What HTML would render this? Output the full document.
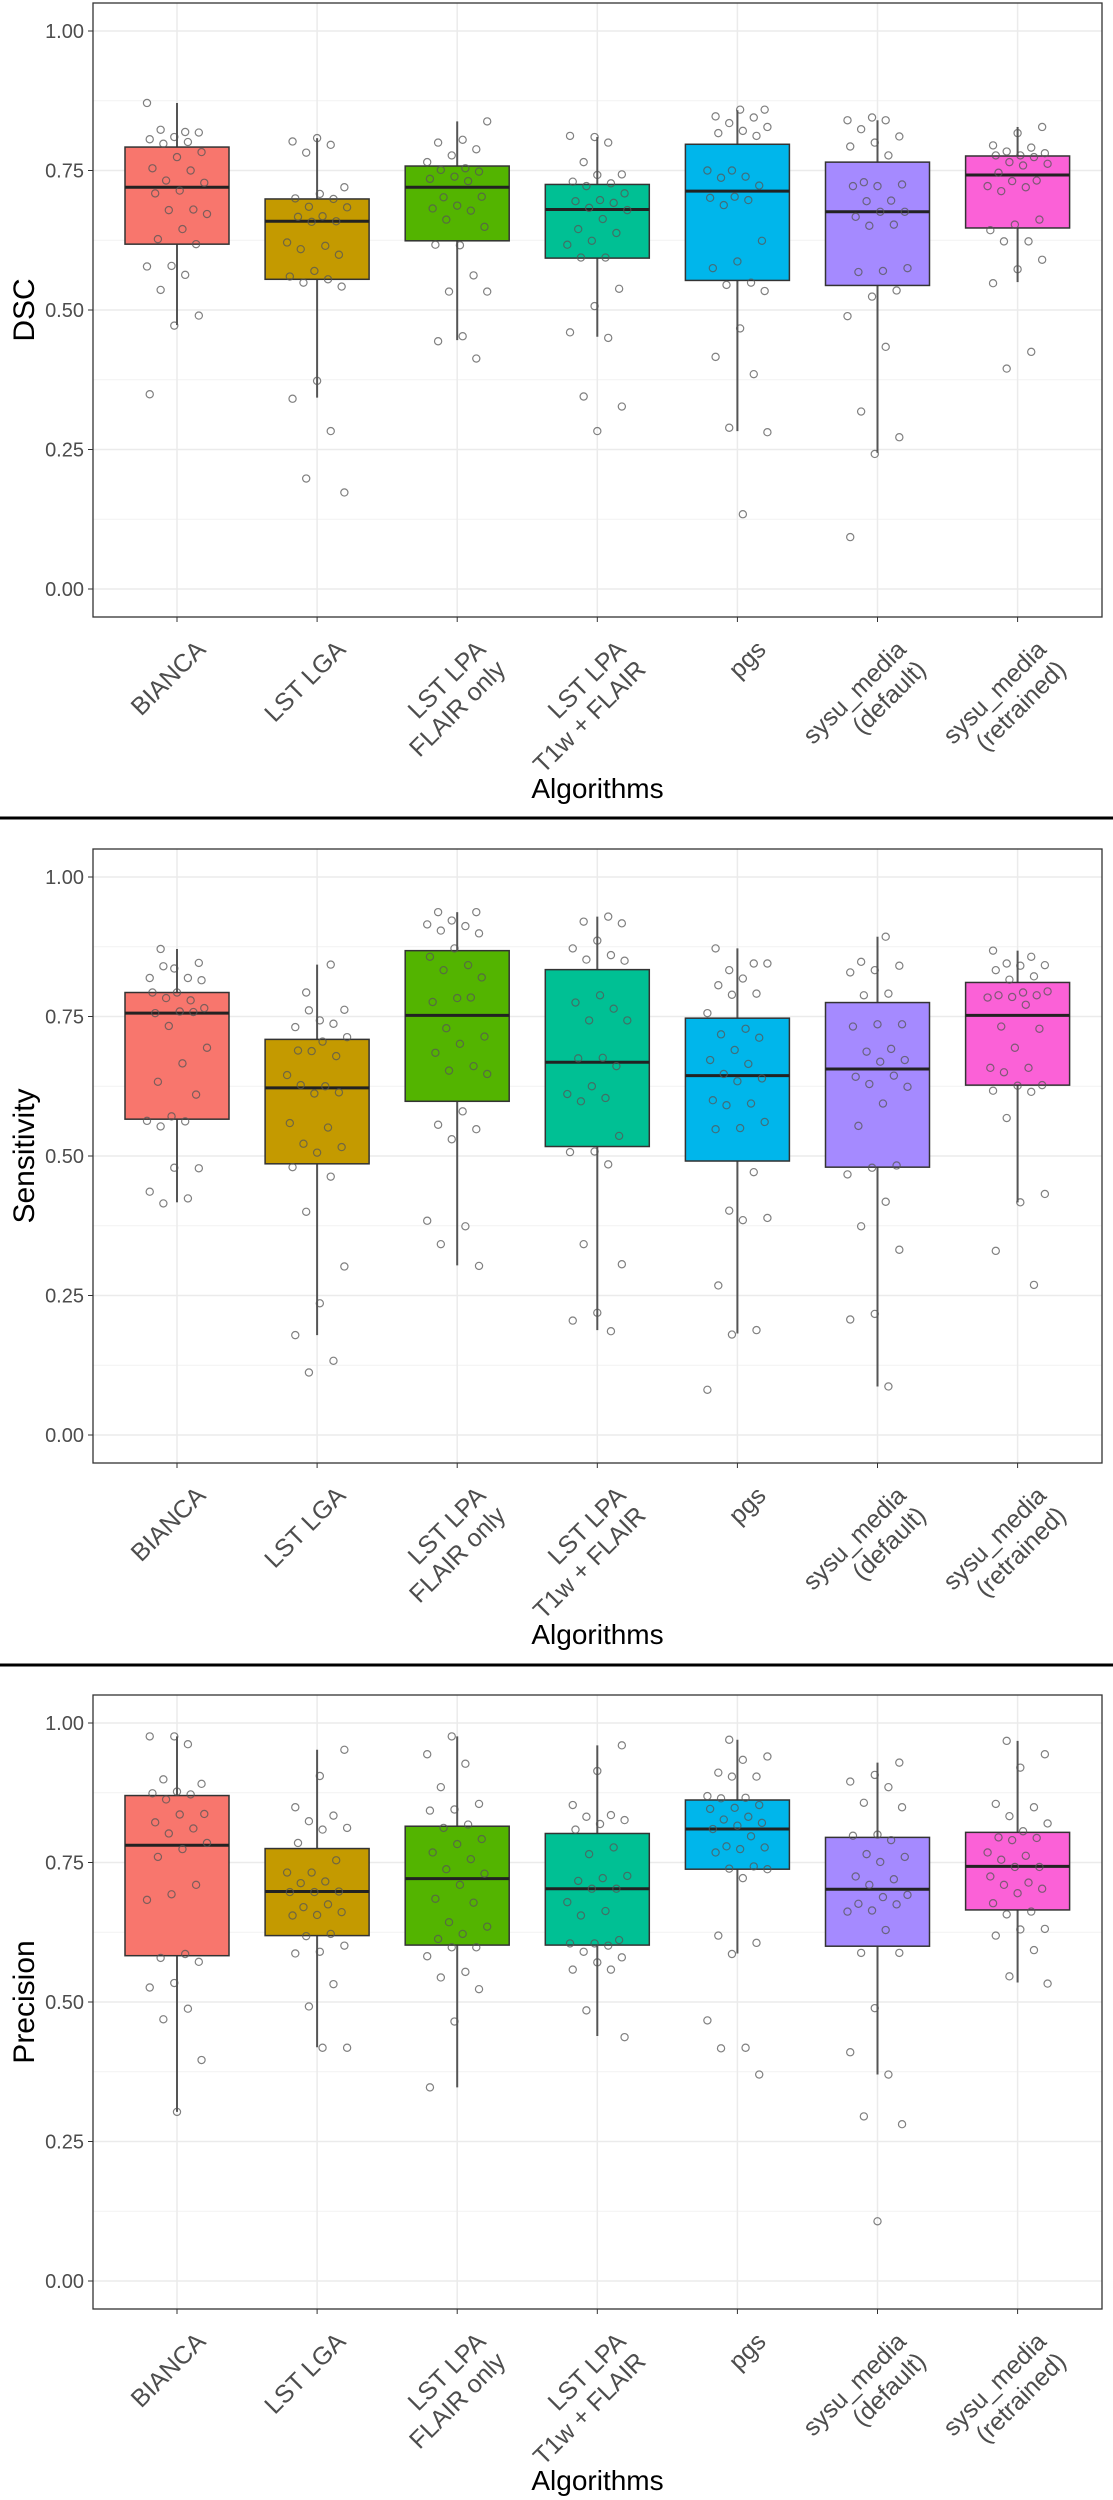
<!DOCTYPE html>
<html><head><meta charset="utf-8"><style>
html,body{margin:0;padding:0;background:#fff}
svg{display:block}
text{font-family:"Liberation Sans",Arial,sans-serif}
</style></head><body>
<svg id="chart" width="1113" height="2500" viewBox="0 0 1113 2500" xmlns="http://www.w3.org/2000/svg"></svg>
<script>
const categories = [["BIANCA"],["LST LGA"],["LST LPA","FLAIR only"],["LST LPA","T1w + FLAIR"],["pgs"],["sysu_media","(default)"],["sysu_media","(retrained)"]];
const colors = ["#F8766D","#C49A00","#53B400","#00C094","#00B6EB","#A58AFF","#FB61D7"];
const yTicks = [0, 0.25, 0.5, 0.75, 1.0];
const yTickLabels = ["0.00","0.25","0.50","0.75","1.00"];
const metricTitles = ["DSC","Sensitivity","Precision"];

// box stats: [lowWhisker, q1, median, q3, highWhisker]
const dscStats = [[0.473,0.618,0.72,0.792,0.871],[0.343,0.555,0.659,0.699,0.808],[0.446,0.624,0.72,0.758,0.838],[0.452,0.593,0.68,0.725,0.81],[0.283,0.553,0.713,0.797,0.858],[0.244,0.544,0.676,0.765,0.84],[0.55,0.647,0.742,0.776,0.828]];
const sensStats = [[0.417,0.566,0.756,0.793,0.871],[0.179,0.486,0.622,0.709,0.843],[0.304,0.598,0.752,0.868,0.937],[0.188,0.517,0.668,0.834,0.929],[0.182,0.491,0.644,0.747,0.872],[0.087,0.48,0.656,0.775,0.893],[0.417,0.627,0.752,0.811,0.868]];
const precStats = [[0.303,0.583,0.781,0.87,0.976],[0.419,0.619,0.698,0.775,0.952],[0.347,0.602,0.721,0.815,0.976],[0.439,0.602,0.703,0.802,0.96],[0.587,0.738,0.81,0.862,0.97],[0.37,0.6,0.702,0.795,0.929],[0.535,0.665,0.743,0.804,0.968]];

const dscPoints = [
[0.871,0.819,0.823,0.818,0.81,0.806,0.801,0.798,0.783,0.774,0.754,0.75,0.732,0.728,0.714,0.709,0.68,0.679,0.672,0.645,0.627,0.618,0.579,0.578,0.563,0.536,0.49,0.472,0.349],
[0.808,0.802,0.796,0.782,0.72,0.708,0.7,0.699,0.685,0.684,0.668,0.667,0.659,0.658,0.621,0.615,0.609,0.599,0.57,0.56,0.555,0.549,0.542,0.373,0.341,0.283,0.198,0.173],
[0.838,0.805,0.8,0.788,0.777,0.765,0.754,0.751,0.748,0.739,0.735,0.731,0.702,0.703,0.687,0.682,0.678,0.662,0.649,0.616,0.617,0.562,0.533,0.533,0.453,0.444,0.413],
[0.81,0.812,0.8,0.765,0.743,0.742,0.73,0.727,0.722,0.709,0.697,0.695,0.692,0.683,0.679,0.663,0.645,0.638,0.624,0.617,0.594,0.594,0.538,0.507,0.46,0.45,0.345,0.327,0.283],
[0.859,0.859,0.847,0.845,0.835,0.828,0.821,0.817,0.812,0.75,0.75,0.739,0.737,0.723,0.703,0.701,0.697,0.688,0.624,0.587,0.575,0.549,0.545,0.534,0.467,0.416,0.385,0.289,0.281,0.134],
[0.845,0.84,0.84,0.824,0.811,0.8,0.793,0.777,0.729,0.725,0.722,0.722,0.696,0.695,0.676,0.676,0.667,0.653,0.651,0.575,0.57,0.568,0.535,0.524,0.489,0.434,0.318,0.272,0.242,0.093],
[0.828,0.817,0.795,0.791,0.784,0.781,0.777,0.777,0.774,0.765,0.762,0.759,0.746,0.732,0.731,0.722,0.72,0.713,0.662,0.653,0.643,0.623,0.623,0.59,0.573,0.548,0.425,0.395]];
const sensPoints = [
[0.871,0.846,0.836,0.819,0.819,0.84,0.815,0.793,0.793,0.779,0.783,0.765,0.759,0.756,0.758,0.733,0.694,0.666,0.633,0.61,0.571,0.563,0.562,0.553,0.478,0.479,0.436,0.424,0.415],
[0.843,0.793,0.762,0.743,0.731,0.737,0.761,0.713,0.705,0.689,0.679,0.688,0.645,0.625,0.627,0.614,0.612,0.559,0.551,0.522,0.516,0.506,0.48,0.463,0.4,0.302,0.236,0.179,0.133,0.112],
[0.937,0.937,0.922,0.915,0.912,0.904,0.899,0.872,0.857,0.842,0.833,0.82,0.783,0.776,0.784,0.729,0.714,0.701,0.685,0.661,0.653,0.647,0.58,0.556,0.548,0.53,0.384,0.374,0.342,0.303],
[0.929,0.92,0.917,0.886,0.872,0.86,0.852,0.85,0.788,0.775,0.764,0.743,0.743,0.676,0.675,0.661,0.625,0.611,0.604,0.598,0.536,0.508,0.507,0.485,0.342,0.306,0.219,0.205,0.186],
[0.872,0.845,0.833,0.845,0.818,0.806,0.791,0.789,0.756,0.728,0.718,0.712,0.69,0.672,0.665,0.647,0.639,0.634,0.6,0.594,0.591,0.561,0.55,0.548,0.471,0.402,0.389,0.385,0.268,0.188,0.18,0.081],
[0.893,0.848,0.841,0.833,0.829,0.791,0.788,0.736,0.736,0.732,0.692,0.687,0.672,0.669,0.642,0.644,0.629,0.624,0.594,0.554,0.483,0.479,0.467,0.418,0.374,0.332,0.217,0.207,0.087],
[0.868,0.857,0.845,0.842,0.841,0.833,0.822,0.816,0.795,0.793,0.788,0.788,0.785,0.784,0.771,0.732,0.728,0.694,0.658,0.658,0.65,0.627,0.626,0.617,0.615,0.568,0.432,0.417,0.33,0.269]];
const precPoints = [
[0.976,0.976,0.962,0.899,0.891,0.877,0.874,0.872,0.863,0.837,0.836,0.822,0.811,0.802,0.785,0.774,0.76,0.71,0.693,0.683,0.586,0.579,0.572,0.534,0.526,0.488,0.469,0.396,0.303],
[0.952,0.905,0.849,0.834,0.824,0.812,0.809,0.785,0.754,0.732,0.732,0.716,0.713,0.698,0.697,0.697,0.675,0.67,0.661,0.656,0.655,0.622,0.618,0.601,0.59,0.587,0.532,0.492,0.418,0.418],
[0.976,0.944,0.927,0.885,0.855,0.845,0.843,0.818,0.812,0.792,0.783,0.768,0.756,0.738,0.73,0.71,0.685,0.678,0.643,0.635,0.622,0.613,0.598,0.598,0.582,0.554,0.544,0.523,0.465,0.347],
[0.96,0.914,0.853,0.835,0.832,0.826,0.819,0.809,0.777,0.765,0.726,0.722,0.717,0.703,0.703,0.679,0.663,0.655,0.611,0.605,0.605,0.601,0.59,0.58,0.571,0.558,0.558,0.485,0.437],
[0.97,0.94,0.934,0.911,0.904,0.904,0.869,0.866,0.865,0.853,0.848,0.846,0.832,0.827,0.821,0.816,0.81,0.797,0.779,0.777,0.774,0.768,0.743,0.739,0.738,0.722,0.619,0.606,0.586,0.467,0.418,0.417,0.37],
[0.929,0.907,0.895,0.885,0.857,0.849,0.8,0.798,0.79,0.765,0.76,0.751,0.725,0.72,0.71,0.692,0.688,0.676,0.675,0.664,0.662,0.629,0.588,0.588,0.489,0.41,0.37,0.295,0.281,0.107],
[0.968,0.944,0.92,0.855,0.849,0.833,0.82,0.806,0.795,0.794,0.79,0.768,0.762,0.755,0.742,0.742,0.725,0.714,0.71,0.703,0.695,0.677,0.662,0.657,0.631,0.63,0.619,0.593,0.546,0.533]];

const allStats = [dscStats, sensStats, precStats];
const allPoints = [dscPoints, sensPoints, precPoints];

const NS = "http://www.w3.org/2000/svg";
const svg = document.getElementById("chart");
function mk(tag, attrs, parent){ const e=document.createElementNS(NS,tag); for(const k in attrs) e.setAttribute(k, attrs[k]); (parent||svg).appendChild(e); return e; }

const PANEL_H = 846, LEFT = 93, RIGHT = 1102;
const X0 = 177, XSTEP = 140.1, HALF = 52;
function xScale(i){ return X0 + i*XSTEP; }
function yScale(v, p){ return p*PANEL_H + 589 - v*558; }

for (let p=0; p<3; p++){
  const off = p*PANEL_H;
  const g = mk("g", {});
  
  
  const top = off+3, bot = off+617;
  // minor grid
  for (let t=0; t<yTicks.length-1; t++){
    const y = yScale((yTicks[t]+yTicks[t+1])/2, p);
    const l = mk("line", {x1:LEFT,x2:RIGHT,y1:y,y2:y,stroke:"#f2f2f2","stroke-width":1}, g);
    
    
  }
  // major grid + y ticks
  yTicks.forEach((v,t)=>{
    const y = yScale(v,p);
    const l = mk("line", {x1:LEFT,x2:RIGHT,y1:y,y2:y,stroke:"#ebebeb","stroke-width":1.5}, g);
    
    
    mk("line", {x1:LEFT-5,x2:LEFT,y1:y,y2:y,stroke:"#333","stroke-width":1}, g);
    const tx = mk("text", {x:LEFT-9,y:y+7,"text-anchor":"end","font-size":20,fill:"#4d4d4d"}, g);
    tx.textContent = yTickLabels[t];
    
    
  });
  categories.forEach((c,i)=>{
    const x = xScale(i);
    const l = mk("line", {x1:x,x2:x,y1:top,y2:bot,stroke:"#ebebeb","stroke-width":1.5}, g);
    
    
  });
  // boxes
  allStats[p].forEach((s,i)=>{
    const x = xScale(i);
    const bg = mk("g", {}, g);
    
    
    mk("line", {x1:x,x2:x,y1:yScale(s[4],p),y2:yScale(s[3],p),stroke:"#555","stroke-width":2}, bg);
    mk("line", {x1:x,x2:x,y1:yScale(s[1],p),y2:yScale(s[0],p),stroke:"#555","stroke-width":2}, bg);
    mk("rect", {x:x-HALF,y:yScale(s[3],p),width:HALF*2,height:yScale(s[1],p)-yScale(s[3],p),fill:colors[i],stroke:"#333","stroke-width":1.5}, bg);
    mk("line", {x1:x-HALF,x2:x+HALF,y1:yScale(s[2],p),y2:yScale(s[2],p),stroke:"#222","stroke-width":3}, bg);
  });
  // jittered points
  allPoints[p].forEach((arr,i)=>{
    const x = xScale(i);
    arr.forEach((v,k)=>{
      const j = (((k*37 + i*11 + p*5) % 23) - 11) / 11 * 30;
      const c = mk("circle", {cx:x+j, cy:yScale(v,p), r:3.6, fill:"none", stroke:"#555", "stroke-opacity":0.75, "stroke-width":1.2}, g);
      
      
    });
  });
  // border
  const b = mk("rect", {x:LEFT,y:top,width:RIGHT-LEFT,height:bot-top,fill:"none",stroke:"#333","stroke-width":1.3}, g);
  
  
  // x ticks and labels
  categories.forEach((c,i)=>{
    const x = xScale(i);
    mk("line", {x1:x,x2:x,y1:bot,y2:bot+5,stroke:"#333","stroke-width":1}, g);
    const ax = x+30, ay = bot+34;
    const tg = mk("text", {transform:`translate(${ax},${ay}) rotate(-45)`,"text-anchor":"end","font-size":25,fill:"#4d4d4d"}, g);
    
    
    c.forEach((line,li)=>{
      const ts = mk("tspan", {x:0, y:li*28}, tg);
      ts.textContent = line;
    });
  });
  const xt = mk("text", {x:(LEFT+RIGHT)/2, y:off+798, "text-anchor":"middle","font-size":28,fill:"#000"}, g);
  xt.textContent = "Algorithms";
  
  
  const yt = mk("text", {transform:`translate(34,${off+310}) rotate(-90)`, "text-anchor":"middle","font-size":30,fill:"#000"}, g);
  yt.textContent = metricTitles[p];
  
  
}
[818, 1665].forEach(y=>{
  const s = mk("line", {x1:0,x2:1113,y1:y,y2:y,stroke:"#000","stroke-width":3});
  
  
});
</script>
</body></html>
